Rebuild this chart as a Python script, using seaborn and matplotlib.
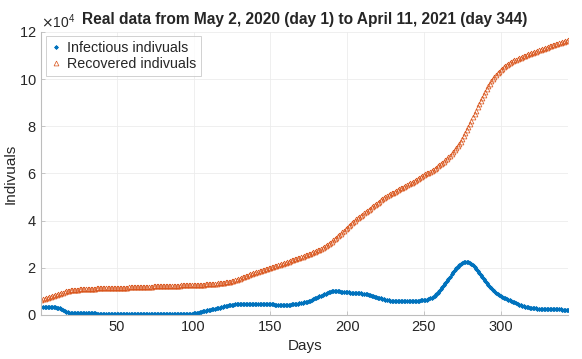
import numpy as np
import pandas as pd
import matplotlib
matplotlib.use("Agg")
import matplotlib.pyplot as plt
import seaborn as sns
from matplotlib.ticker import ScalarFormatter

# daily values, day 1 .. day 344
infectious = [
    3500, 3450, 3400, 3350, 3350, 3300, 3300, 3250, 3200, 3200,
    3100, 3000, 2800, 2500, 2100, 1700, 1300, 1100, 1000, 950,
    900, 900, 880, 860, 850, 840, 830, 820, 800, 780,
    760, 740, 720, 700, 680, 650, 620, 600, 580, 560,
    540, 520, 500, 480, 470, 460, 450, 440, 430, 420,
    410, 400, 390, 380, 370, 360, 350, 340, 340, 330,
    330, 320, 320, 310, 310, 300, 300, 300, 290, 290,
    290, 280, 280, 280, 280, 270, 270, 270, 270, 270,
    270, 270, 280, 280, 290, 290, 300, 310, 320, 330,
    340, 360, 380, 400, 430, 460, 500, 550, 620, 700,
    800, 920, 1050, 1200, 1350, 1500, 1650, 1800, 1950, 2100,
    2250, 2400, 2550, 2700, 2850, 3000, 3150, 3300, 3450, 3600,
    3750, 3900, 4050, 4200, 4300, 4400, 4450, 4500, 4550, 4600,
    4650, 4650, 4700, 4700, 4700, 4650, 4650, 4600, 4600, 4600,
    4600, 4650, 4700, 4700, 4750, 4750, 4800, 4800, 4750, 4700,
    4600, 4500, 4400, 4350, 4300, 4250, 4200, 4200, 4200, 4250,
    4300, 4350, 4400, 4450, 4500, 4600, 4700, 4800, 4900, 5000,
    5150, 5300, 5500, 5700, 5900, 6100, 6400, 6700, 7000, 7300,
    7600, 7900, 8200, 8500, 8800, 9100, 9400, 9700, 9900, 10100,
    10200, 10300, 10200, 10100, 10000, 9900, 9800, 9700, 9650, 9600,
    9550, 9500, 9450, 9400, 9350, 9300, 9250, 9200, 9150, 9100,
    9000, 8900, 8750, 8600, 8400, 8200, 8000, 7800, 7600, 7400,
    7200, 7000, 6800, 6600, 6400, 6250, 6150, 6050, 6000, 5950,
    5950, 5900, 5900, 5900, 5950, 5950, 5950, 5950, 6000, 6000,
    6000, 6000, 6000, 6000, 6050, 6050, 6100, 6150, 6200, 6300,
    6400, 6550, 6750, 7000, 7300, 7700, 8200, 8800, 9500, 10300,
    11000, 11800, 12700, 13600, 14500, 15400, 16300, 17200, 18100, 19000,
    19800, 20500, 21100, 21600, 22000, 22300, 22500, 22500, 22400, 22100,
    21600, 21000, 20300, 19500, 18700, 17900, 17000, 16100, 15200, 14300,
    13500, 12700, 12000, 11300, 10600, 10000, 9500, 9000, 8600, 8200,
    7800, 7400, 7100, 6800, 6500, 6200, 5900, 5600, 5300, 5000,
    4700, 4400, 4150, 3900, 3700, 3500, 3350, 3200, 3100, 3000,
    2900, 2850, 2800, 2750, 2700, 2650, 2600, 2600, 2550, 2550,
    2500, 2500, 2450, 2450, 2400, 2400, 2400, 2350, 2350, 2300,
    2300, 2300, 2250, 2250,
]

recovered = [
    6500, 6700, 6900, 7100, 7300, 7500, 7700, 7900, 8100, 8300,
    8500, 8700, 8900, 9200, 9500, 9800, 10000, 10200, 10350, 10500,
    10600, 10650, 10700, 10750, 10800, 10850, 10900, 10950, 11000, 11050,
    11080, 11110, 11140, 11170, 11200, 11220, 11240, 11260, 11280, 11300,
    11320, 11340, 11360, 11380, 11400, 11420, 11440, 11460, 11480, 11500,
    11520, 11540, 11560, 11580, 11600, 11620, 11640, 11660, 11680, 11700,
    11720, 11740, 11770, 11800, 11830, 11860, 11890, 11920, 11950, 11980,
    12010, 12040, 12070, 12100, 12130, 12160, 12190, 12220, 12250, 12280,
    12300, 12320, 12340, 12360, 12380, 12400, 12420, 12440, 12460, 12480,
    12500, 12520, 12540, 12560, 12580, 12600, 12620, 12640, 12660, 12680,
    12700, 12720, 12750, 12780, 12820, 12860, 12900, 12950, 13000, 13050,
    13100, 13150, 13200, 13260, 13330, 13400, 13480, 13560, 13640, 13720,
    13800, 13900, 14000, 14150, 14300, 14500, 14700, 14950, 15200, 15450,
    15700, 15950, 16200, 16450, 16700, 16950, 17200, 17450, 17700, 17950,
    18150, 18350, 18550, 18750, 18950, 19150, 19350, 19550, 19750, 19950,
    20180, 20400, 20630, 20860, 21080, 21310, 21540, 21760, 21990, 22220,
    22440, 22670, 22900, 23120, 23350, 23580, 23800, 24030, 24260, 24490,
    24740, 24990, 25240, 25500, 25760, 26020, 26290, 26560, 26830, 27100,
    27400, 27700, 28050, 28400, 28800, 29200, 29650, 30100, 30550, 31050,
    31600, 32150, 32700, 33300, 33900, 34500, 35100, 35700, 36350, 37000,
    37600, 38200, 38800, 39400, 40000, 40550, 41100, 41600, 42100, 42600,
    43100, 43600, 44100, 44600, 45100, 45600, 46100, 46600, 47100, 47600,
    48100, 48600, 49050, 49500, 49950, 50350, 50750, 51150, 51550, 51900,
    52250, 52600, 52950, 53300, 53650, 54000, 54350, 54700, 55050, 55400,
    55750, 56100, 56450, 56800, 57200, 57600, 58000, 58400, 58800, 59200,
    59600, 60000, 60400, 60800, 61200, 61600, 62000, 62500, 63000, 63500,
    64000, 64500, 65000, 65600, 66200, 66800, 67500, 68200, 69000, 69800,
    70600, 71500, 72500, 73500, 74600, 75800, 77000, 78300, 79600, 81000,
    82400, 83800, 85200, 86600, 88000, 89400, 90800, 92100, 93400, 94600,
    95800, 97000, 98100, 99100, 100000, 100900, 101700, 102500, 103200, 103900,
    104500, 105100, 105600, 106100, 106500, 106900, 107300, 107600, 107900, 108200,
    108500, 108800, 109100, 109400, 109700, 109950, 110200, 110450, 110700, 110900,
    111150, 111400, 111650, 111900, 112150, 112400, 112650, 112900, 113150, 113400,
    113620, 113840, 114060, 114280, 114500, 114720, 114940, 115160, 115380, 115600,
    115800, 116000, 116200, 116400,
]

days = list(range(1, len(infectious) + 1))
x_ticks = [50, 100, 150, 200, 250, 300]
y_ticks = [0, 20000, 40000, 60000, 80000, 100000, 120000]

df = pd.DataFrame({"day": days, "infectious": infectious, "recovered": recovered})

sns.set_style("white")
plt.rcParams["font.family"] = ["Liberation Sans", "DejaVu Sans"]

fig = plt.figure(figsize=(5.82, 3.59), dpi=100)
ax = fig.add_axes([0.0713, 0.1226, 0.905, 0.7884])

blue = "#0072BD"
orange = "#D95319"

sns.lineplot(data=df, x="day", y="infectious", ax=ax, linestyle="none",
             marker=(8, 2, 0), markersize=3.2, markeredgewidth=0.4,
             color=blue, markeredgecolor=blue, label="Infectious indivuals")
sns.lineplot(data=df, x="day", y="recovered", ax=ax, linestyle="none",
             marker="^", markersize=3.5, markeredgewidth=0.5,
             markerfacecolor="none", markeredgecolor=orange, color=orange,
             label="Recovered indivuals")

ax.set_xlim(1, 344)
ax.set_ylim(0, 120000)
ax.set_xticks(x_ticks)
ax.set_yticks(y_ticks)


class Pow4Formatter(ScalarFormatter):
    def _set_order_of_magnitude(self):
        self.orderOfMagnitude = 4


fmt = Pow4Formatter(useMathText=True)
ax.yaxis.set_major_formatter(fmt)
ax.yaxis.get_offset_text().set_fontsize(10)
ax.yaxis.get_offset_text().set_color("#262626")

ax.grid(True, color="#ececec", linewidth=0.6)
for s in ["top", "right"]:
    ax.spines[s].set_visible(False)
for s in ["left", "bottom"]:
    ax.spines[s].set_color("#bdbdbd")
    ax.spines[s].set_linewidth(0.8)
ax.tick_params(direction="in", length=3, width=0.6, color="#bdbdbd",
               labelsize=10.5, labelcolor="#262626", left=True, bottom=True)

ax.set_xlabel("Days", fontsize=11, color="#262626", labelpad=4)
ax.set_ylabel("Indivuals", fontsize=11, color="#262626")
ax.yaxis.set_label_coords(-0.045, 0.5)
ax.set_title("Real data from May 2, 2020 (day 1) to April 11, 2021 (day 344)",
             fontsize=11.2, fontweight="bold", pad=6)

leg = ax.legend(loc="upper left", fontsize=10.3, frameon=True, fancybox=False,
                borderpad=0.3, handlelength=0.8, handletextpad=0.4,
                labelspacing=0.2, borderaxespad=0.3, markerscale=1.0)
leg.get_frame().set_edgecolor("#bdbdbd")
leg.get_frame().set_linewidth(0.6)

fig.savefig("out.png", dpi=100)
